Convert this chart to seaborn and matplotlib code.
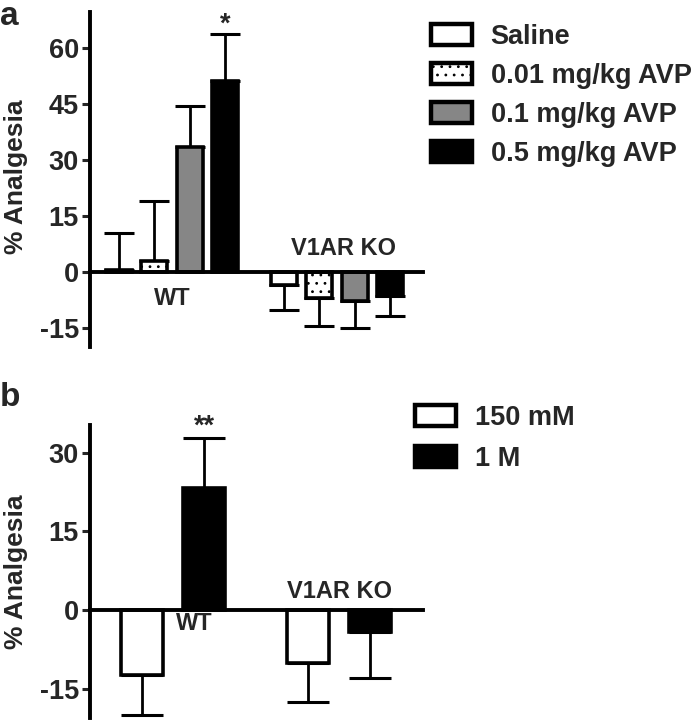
import matplotlib
matplotlib.use("Agg")
import matplotlib.pyplot as plt
import matplotlib.patches as mpatches
import numpy as np
import pandas as pd
import seaborn as sns

# ---- data ----
GROUPS = ["WT", "V1AR KO"]

# panel a: AVP doses
DOSES = ["Saline", "0.01 mg/kg AVP", "0.1 mg/kg AVP", "0.5 mg/kg AVP"]
A_WT_MEAN = [0.5, 3.0, 33.5, 51.0]
A_WT_ERR = [9.8, 16.0, 11.0, 12.7]
A_KO_MEAN = [-3.5, -7.0, -7.8, -6.5]
A_KO_ERR = [6.8, 7.6, 7.3, 5.4]
A_COLORS = ["white", "white", "#868686", "black"]
A_HATCH = [None, "..", None, None]

# panel b: saline concentration
SALTS = ["150 mM", "1 M"]
B_WT_MEAN = [-12.4, 23.2]
B_WT_ERR = [7.6, 9.6]
B_KO_MEAN = [-10.1, -4.2]
B_KO_ERR = [7.5, 8.8]
B_COLORS = ["white", "black"]

FS = 19.5
LW = 2.6

sns.set_style("white")
plt.rcParams["font.family"] = ["Liberation Sans", "DejaVu Sans"]
plt.rcParams["font.weight"] = "bold"
plt.rcParams["axes.unicode_minus"] = False
plt.rcParams["hatch.linewidth"] = 0.8


def make_df(levels, wt_mean, ko_mean):
    rows = []
    for lev, w, k in zip(levels, wt_mean, ko_mean):
        rows.append({"group": "WT", "level": lev, "value": w})
        rows.append({"group": "V1AR KO", "level": lev, "value": k})
    return pd.DataFrame(rows)


def draw_panel(ax, levels, wt_mean, wt_err, ko_mean, ko_err, colors, hatches,
               width, gap, capsize):
    df = make_df(levels, wt_mean, ko_mean)
    sns.barplot(data=df, x="group", y="value", hue="level", order=GROUPS,
                hue_order=levels, palette=colors, saturation=1, width=width,
                gap=gap, edgecolor="black", linewidth=LW, errorbar=None,
                legend=False, ax=ax, zorder=3)
    bar_containers = list(ax.containers)
    for i, cont in enumerate(bar_containers):
        errs = [wt_err[i], ko_err[i]]
        for bar, e in zip(cont.patches, errs):
            if hatches[i]:
                bar.set_hatch(hatches[i])
            h = bar.get_height()
            x = bar.get_x() + bar.get_width() / 2
            yerr = [[0], [e]] if h >= 0 else [[e], [0]]
            ax.errorbar([x], [h], yerr=yerr, fmt="none", ecolor="black",
                        elinewidth=2.0, capsize=capsize, capthick=2.2, zorder=2)
    ax.set_xlabel("")
    ax.set_xticks([])
    for s in ["top", "right"]:
        ax.spines[s].set_visible(False)
    ax.spines["bottom"].set_position(("data", 0))
    for s in ["left", "bottom"]:
        ax.spines[s].set_linewidth(2.8)
        ax.spines[s].set_color("black")
        ax.spines[s].set_zorder(4)
    ax.tick_params(axis="y", direction="out", length=6, width=2.2,
                   labelsize=FS, pad=2, left=True)
    ax.set_ylabel("% Analgesia", fontsize=19, fontweight="bold")
    return bar_containers


fig = plt.figure(figsize=(6.92, 7.2), dpi=100)

# ---- panel a ----
ax_a = fig.add_axes([90 / 692, (720 - 347) / 720, 333 / 692, 335 / 720])
bars_a = draw_panel(ax_a, DOSES, A_WT_MEAN, A_WT_ERR, A_KO_MEAN, A_KO_ERR,
                    A_COLORS, A_HATCH, width=0.86, gap=0.27, capsize=11)
ax_a.set_ylim(-20.1, 69.6)
ax_a.set_xlim(-0.497, 1.52)
ax_a.set_yticks([-15, 0, 15, 30, 45, 60])
ax_a.yaxis.set_label_coords(-0.186, 0.507)
ax_a.text(0, -7, "WT", ha="center", va="center", fontsize=17, fontweight="bold")
ax_a.text(1.04, 6.3, "V1AR KO", ha="center", va="center", fontsize=17,
          fontweight="bold")
star_bar = bars_a[3].patches[0]
ax_a.text(star_bar.get_x() + star_bar.get_width() / 2,
          A_WT_MEAN[3] + A_WT_ERR[3] - 1.0, "*", ha="center", va="bottom",
          fontsize=FS, fontweight="bold", clip_on=False)

handles_a = [mpatches.Patch(facecolor=c, edgecolor="black", linewidth=LW + 0.6,
                            hatch=h) for c, h in zip(A_COLORS, A_HATCH)]
fig.legend(handles_a, DOSES, loc="upper left",
           bbox_to_anchor=(431 / 692, 1 - 24 / 720), frameon=False,
           borderpad=0, borderaxespad=0, handlelength=1.5, handleheight=0.82,
           handletextpad=0.7, labelspacing=0.48,
           prop={"size": FS, "weight": "bold"})

# ---- panel b ----
ax_b = fig.add_axes([90 / 692, 2 / 720, 333 / 692, 293 / 720])
bars_b = draw_panel(ax_b, SALTS, B_WT_MEAN, B_WT_ERR, B_KO_MEAN, B_KO_ERR,
                    B_COLORS, [None, None], width=0.75, gap=0.32, capsize=15)
ax_b.set_ylim(-20.6, 35.3)
ax_b.set_xlim(-0.5, 1.506)
ax_b.set_yticks([-15, 0, 15, 30])
ax_b.yaxis.set_label_coords(-0.186, 0.5)
ax_b.text(0.13, -2.6, "WT", ha="center", va="center", fontsize=17,
          fontweight="bold")
ax_b.text(1.0, 3.5, "V1AR KO", ha="center", va="center", fontsize=17,
          fontweight="bold")
star_bar = bars_b[1].patches[0]
ax_b.text(star_bar.get_x() + star_bar.get_width() / 2,
          B_WT_MEAN[1] + B_WT_ERR[1] - 0.3, "**", ha="center", va="bottom",
          fontsize=FS, fontweight="bold", clip_on=False)

handles_b = [mpatches.Patch(facecolor=c, edgecolor="black", linewidth=LW + 0.6)
             for c in B_COLORS]
fig.legend(handles_b, SALTS, loc="upper left",
           bbox_to_anchor=(415 / 692, 1 - 405 / 720), frameon=False,
           borderpad=0, borderaxespad=0, handlelength=1.5, handleheight=0.82,
           handletextpad=0.7, labelspacing=0.55,
           prop={"size": FS, "weight": "bold"})

# panel letters
fig.text(0.0, 1 - 1 / 720, "a", fontsize=24, fontweight="bold", va="top")
fig.text(0.0, 1 - 382 / 720, "b", fontsize=24, fontweight="bold", va="top")

fig.savefig("out.png", dpi=100)
